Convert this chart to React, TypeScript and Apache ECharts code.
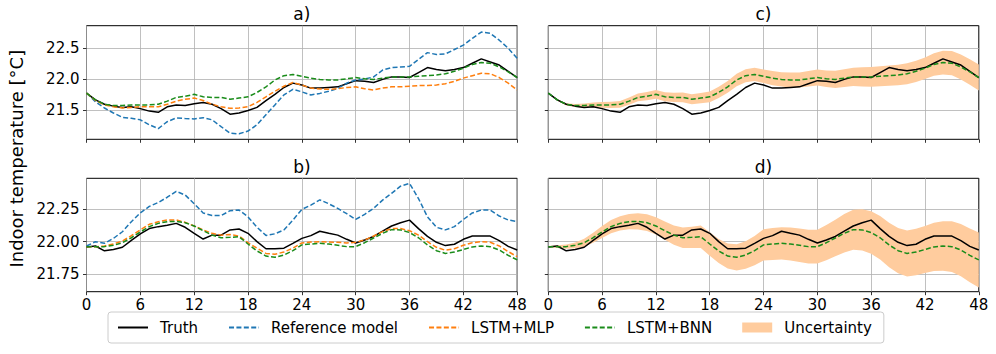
import React, { useEffect, useRef } from "react";
import * as echarts from "echarts";

const FONT = "DejaVu Sans";

const hours = [0,1,2,3,4,5,6,7,8,9,10,11,12,13,14,15,16,17,18,19,20,21,22,23,24,25,26,27,28,29,30,31,32,33,34,35,36,37,38,39,40,41,42,43,44,45,46,47,48];
const yTicksTop = [21.5, 22.0, 22.5];
const yTicksBottom = [21.75, 22.0, 22.25];

// Top row (a, c)
const truthTop = [21.78,21.67,21.60,21.57,21.55,21.56,21.53,21.49,21.47,21.56,21.59,21.58,21.61,21.63,21.60,21.53,21.44,21.46,21.50,21.55,21.66,21.76,21.87,21.94,21.91,21.86,21.86,21.87,21.88,21.93,21.98,21.97,21.95,22.00,22.04,22.04,22.03,22.11,22.19,22.16,22.14,22.16,22.19,22.26,22.33,22.28,22.23,22.13,22.03];
const refTop = [21.78,21.64,21.54,21.46,21.39,21.375,21.35,21.27,21.21,21.32,21.38,21.37,21.365,21.385,21.35,21.24,21.135,21.125,21.17,21.27,21.43,21.59,21.75,21.84,21.80,21.75,21.775,21.81,21.855,21.94,21.99,22.005,22.04,22.15,22.19,22.20,22.21,22.32,22.43,22.40,22.41,22.48,22.55,22.66,22.76,22.74,22.63,22.50,22.34];
const mlpTop = [21.78,21.66,21.59,21.56,21.54,21.55,21.56,21.56,21.56,21.60,21.65,21.68,21.70,21.66,21.60,21.56,21.535,21.54,21.56,21.63,21.72,21.81,21.89,21.95,21.91,21.86,21.845,21.84,21.85,21.87,21.88,21.85,21.83,21.86,21.88,21.88,21.89,21.90,21.90,21.91,21.93,21.97,22.02,22.06,22.10,22.09,22.03,21.94,21.83];
const bnnTop = [21.78,21.67,21.60,21.58,21.58,21.59,21.59,21.59,21.60,21.65,21.71,21.73,21.76,21.72,21.71,21.71,21.68,21.70,21.72,21.79,21.88,21.99,22.06,22.08,22.05,22.02,22.00,21.99,21.99,22.01,22.03,22.01,22.00,22.02,22.04,22.04,22.04,22.05,22.06,22.07,22.09,22.13,22.18,22.24,22.27,22.26,22.20,22.12,22.03];
const uncTop = [0.005,0.012,0.018,0.025,0.032,0.04,0.045,0.05,0.054,0.058,0.062,0.066,0.07,0.073,0.075,0.078,0.08,0.083,0.086,0.09,0.095,0.1,0.104,0.107,0.11,0.113,0.116,0.119,0.122,0.126,0.13,0.134,0.138,0.143,0.148,0.154,0.16,0.162,0.164,0.166,0.168,0.17,0.172,0.18,0.19,0.195,0.2,0.205,0.21];

// Bottom row (b, d)
const truthBottom = [21.96,21.967,21.93,21.94,21.957,22.01,22.06,22.10,22.115,22.125,22.14,22.11,22.064,22.02,22.05,22.05,22.09,22.097,22.064,22.00,21.946,21.946,21.95,21.987,22.025,22.046,22.08,22.064,22.05,22.018,21.99,22.013,22.04,22.08,22.12,22.145,22.165,22.10,22.04,21.995,21.97,21.98,22.018,22.043,22.043,22.043,22.008,21.964,21.936];
const refBottom = [21.967,22.0,21.987,22.025,22.076,22.153,22.22,22.27,22.30,22.34,22.385,22.357,22.29,22.22,22.2,22.2,22.237,22.242,22.19,22.11,22.048,22.06,22.09,22.165,22.247,22.28,22.32,22.29,22.255,22.214,22.17,22.209,22.255,22.318,22.37,22.425,22.446,22.33,22.19,22.11,22.09,22.115,22.17,22.22,22.242,22.242,22.196,22.166,22.153];
const mlpBottom = [21.962,21.962,21.967,21.982,22.005,22.046,22.09,22.133,22.153,22.166,22.166,22.148,22.12,22.09,22.064,22.05,22.054,22.043,21.992,21.95,21.91,21.903,21.921,21.95,21.99,21.997,22.0,21.997,21.995,21.99,21.995,22.013,22.043,22.077,22.10,22.1,22.084,22.05,22.0,21.957,21.934,21.946,21.972,21.992,22.0,21.995,21.967,21.924,21.885];
const bnnBottom = [21.962,21.962,21.962,21.972,21.992,22.03,22.074,22.115,22.14,22.153,22.155,22.145,22.12,22.084,22.05,22.03,22.033,22.038,21.982,21.929,21.89,21.88,21.898,21.931,21.975,21.982,21.987,21.982,21.972,21.962,21.962,21.992,22.028,22.064,22.092,22.09,22.07,22.03,21.975,21.931,21.91,21.92,21.94,21.96,21.967,21.962,21.936,21.895,21.86];
const uncBottom = [0.004,0.01,0.016,0.022,0.03,0.038,0.046,0.05,0.054,0.058,0.062,0.064,0.066,0.07,0.074,0.078,0.082,0.086,0.09,0.092,0.095,0.1,0.105,0.112,0.12,0.122,0.124,0.126,0.128,0.129,0.13,0.135,0.14,0.147,0.153,0.158,0.163,0.166,0.17,0.173,0.176,0.178,0.18,0.185,0.19,0.195,0.2,0.205,0.21];

const COLORS = {
  truth: "#000000",
  ref: "#1f77b4",
  mlp: "#ff7f0e",
  bnn: "#1a8c1a",
  band: "#ffcc9e",
};

const pairs = (ys: number[]) => hours.map((h, i) => [h, ys[i]]);

function lineSeries(name: string, ys: number[], gi: number, color: string, dashed: boolean) {
  return {
    type: "line",
    name,
    xAxisIndex: gi,
    yAxisIndex: gi,
    data: pairs(ys),
    symbol: "none",
    silent: true,
    lineStyle: { color, width: 1.5, type: dashed ? [5, 2.4] : "solid" },
    itemStyle: { color },
  };
}

function bandSeries(center: number[], half: number[], gi: number) {
  return {
    type: "custom",
    name: "Uncertainty",
    xAxisIndex: gi,
    yAxisIndex: gi,
    silent: true,
    clip: true,
    itemStyle: { color: COLORS.band },
    data: [[hours[0], center[0]]],
    renderItem: (_params: any, api: any) => {
      const upper = hours.map((h, i) => api.coord([h, center[i] + half[i]]));
      const lower = hours.map((h, i) => api.coord([h, center[i] - half[i]])).reverse();
      return {
        type: "polygon",
        shape: { points: upper.concat(lower) },
        style: { fill: COLORS.band, stroke: "none" },
      };
    },
  };
}

export default function App() {
  const ref = useRef<HTMLDivElement>(null);

  useEffect(() => {
    if (!ref.current) return;
    const chart = echarts.init(ref.current, null, { renderer: "svg" });

    const grids = [
      { left: 86.5, top: 25.7, width: 430.7, height: 113.6 },
      { left: 548.3, top: 25.7, width: 430.5, height: 113.6 },
      { left: 86.5, top: 178.3, width: 430.7, height: 113.4 },
      { left: 548.3, top: 178.3, width: 430.5, height: 113.4 },
    ].map((g) => ({ ...g, show: true, borderColor: "#000", borderWidth: 1, backgroundColor: "transparent", containLabel: false }));

    const xAxes = [0, 1, 2, 3].map((gi) => ({
      type: "value",
      gridIndex: gi,
      min: 0,
      max: 48,
      interval: 6,
      axisLine: { show: false },
      axisTick: { show: true, length: 3.5, lineStyle: { color: "#000", width: 0.8 } },
      axisLabel: {
        show: gi >= 2,
        margin: 6,
        fontSize: 15,
        fontFamily: FONT,
        color: "#000",
        showMinLabel: true,
        showMaxLabel: true,
      },
      splitLine: { show: true, lineStyle: { color: "#b0b0b0", width: 0.8 } },
    }));

    const yAxes = [0, 1, 2, 3].map((gi) => {
      const top = gi < 2;
      const ticks = top ? yTicksTop : yTicksBottom;
      return {
        type: "value",
        gridIndex: gi,
        min: top ? 21.037 : 21.617,
        max: top ? 22.863 : 22.485,
        axisLine: { show: false },
        axisTick: { show: true, length: 3.5, customValues: ticks, lineStyle: { color: "#000", width: 0.8 } },
        axisLabel: {
          show: gi === 0 || gi === 2,
          customValues: ticks,
          margin: 7,
          fontSize: 15,
          fontFamily: FONT,
          color: "#000",
          formatter: (v: number) => (top ? v.toFixed(1) : v.toFixed(2)),
        },
        splitLine: { show: true, lineStyle: { color: "#b0b0b0", width: 0.8 } },
      };
    });

    const series: any[] = [
      // a)
      lineSeries("Truth", truthTop, 0, COLORS.truth, false),
      lineSeries("Reference model", refTop, 0, COLORS.ref, true),
      lineSeries("LSTM+MLP", mlpTop, 0, COLORS.mlp, true),
      lineSeries("LSTM+BNN", bnnTop, 0, COLORS.bnn, true),
      // c)
      bandSeries(bnnTop, uncTop, 1),
      lineSeries("Truth", truthTop, 1, COLORS.truth, false),
      lineSeries("LSTM+BNN", bnnTop, 1, COLORS.bnn, true),
      // b)
      lineSeries("Truth", truthBottom, 2, COLORS.truth, false),
      lineSeries("Reference model", refBottom, 2, COLORS.ref, true),
      lineSeries("LSTM+MLP", mlpBottom, 2, COLORS.mlp, true),
      lineSeries("LSTM+BNN", bnnBottom, 2, COLORS.bnn, true),
      // d)
      bandSeries(bnnBottom, uncBottom, 3),
      lineSeries("Truth", truthBottom, 3, COLORS.truth, false),
      lineSeries("LSTM+BNN", bnnBottom, 3, COLORS.bnn, true),
    ];

    const titleStyle = { fontSize: 17, fontFamily: FONT, fill: "#000", align: "center", verticalAlign: "middle" };

    chart.setOption({
      animation: false,
      grid: grids,
      xAxis: xAxes,
      yAxis: yAxes,
      series,
      legend: {
        show: true,
        orient: "horizontal",
        left: 108,
        top: 312,
        itemWidth: 30,
        itemHeight: 10,
        itemGap: 30,
        padding: [8, 12, 8, 9],
        borderColor: "#cccccc",
        borderWidth: 1,
        borderRadius: 3,
        selectedMode: false,
        itemStyle: { opacity: 0 },
        textStyle: { fontSize: 15, fontFamily: FONT, color: "#000", padding: [0, 0, 0, 7] },
        data: [
          "Truth",
          "Reference model",
          "LSTM+MLP",
          "LSTM+BNN",
          { name: "Uncertainty", icon: "rect", itemStyle: { color: COLORS.band, opacity: 1 } },
        ],
      },
      graphic: [
        { type: "text", x: 301.9, y: 14, style: { ...titleStyle, text: "a)" } },
        { type: "text", x: 763.5, y: 14, style: { ...titleStyle, text: "c)" } },
        { type: "text", x: 301.9, y: 166.6, style: { ...titleStyle, text: "b)" } },
        { type: "text", x: 763.5, y: 166.6, style: { ...titleStyle, text: "d)" } },
        {
          type: "text",
          x: 16,
          y: 158.7,
          rotation: Math.PI / 2,
          style: { ...titleStyle, fontSize: 18, text: "Indoor temperature [°C]" },
        },
      ],
    });

    return () => chart.dispose();
  }, []);

  return (
    <div
      ref={ref}
      style={{ position: "absolute", left: 0, top: 0, width: 996, height: 354 }}
    />
  );
}
